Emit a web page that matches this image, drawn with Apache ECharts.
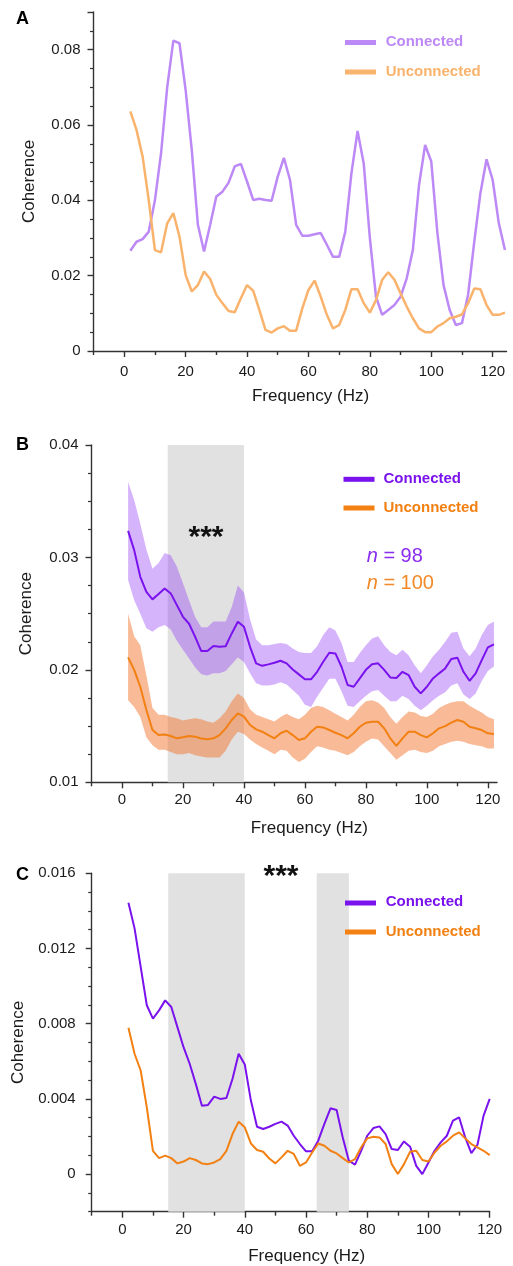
<!DOCTYPE html>
<html>
<head>
<meta charset="utf-8">
<script src="https://cdn.jsdelivr.net/npm/echarts@6/dist/echarts.min.js"></script>
<style>html,body{margin:0;padding:0;background:#fff}#chart{width:513px;height:1266px}</style>
</head>
<body>
<div id="chart"></div>
<script>
// ---------- Panel A ----------
const freqA = [2,4,6,8,10,12,14,16,18,20,22,24,26,28,30,32,34,36,38,40,42,44,46,48,50,52,54,56,58,60,62,64,66,68,70,72,74,76,78,80,82,84,86,88,90,92,94,96,98,100,102,104,106,108,110,112,114,116,118,120,122,124];
const connectedA = [0.0266,0.0290,0.0297,0.0317,0.0400,0.0525,0.0700,0.0824,0.0817,0.0693,0.0534,0.0335,0.0264,0.0335,0.0410,0.0423,0.0447,0.0490,0.0497,0.0450,0.0401,0.0404,0.0401,0.0399,0.0463,0.0513,0.0454,0.0335,0.0306,0.0306,0.0310,0.0313,0.0282,0.0250,0.0250,0.0317,0.0472,0.0584,0.0498,0.0300,0.0144,0.0096,0.0109,0.0122,0.0144,0.0193,0.0268,0.0440,0.0547,0.0503,0.0313,0.0175,0.0109,0.0069,0.0074,0.0150,0.0290,0.0419,0.0509,0.0454,0.0339,0.0268];
const unconnectedA = [0.0636,0.0587,0.0516,0.0400,0.0268,0.0262,0.0339,0.0366,0.0304,0.0202,0.0158,0.0175,0.0211,0.0191,0.0149,0.0127,0.0106,0.0103,0.0140,0.0175,0.0160,0.0109,0.0056,0.0049,0.0060,0.0066,0.0054,0.0054,0.0113,0.0162,0.0187,0.0144,0.0096,0.0060,0.0069,0.0109,0.0164,0.0164,0.0127,0.0102,0.0135,0.0189,0.0209,0.0189,0.0153,0.0118,0.0087,0.0060,0.0050,0.0050,0.0065,0.0074,0.0087,0.0091,0.0097,0.0127,0.0166,0.0164,0.0122,0.0096,0.0096,0.0102];

// ---------- Panel B ----------
const freqB = [2,4,6,8,10,12,14,16,18,20,22,24,26,28,30,32,34,36,38,40,42,44,46,48,50,52,54,56,58,60,62,64,66,68,70,72,74,76,78,80,82,84,86,88,90,92,94,96,98,100,102,104,106,108,110,112,114,116,118,120,122];
const connectedB = [0.03236,0.03065,0.02828,0.02694,0.02627,0.02674,0.02724,0.0268,0.02576,0.02472,
  0.0241,0.02294,0.02167,0.02167,0.02212,0.02205,0.0221,0.02324,0.02428,0.02383,
  0.02205,0.02058,0.02036,0.02049,0.02063,0.02081,0.02058,0.02004,0.0196,0.01916,
  0.01916,0.01983,0.02072,0.02152,0.02146,0.02028,0.01865,0.0185,0.01924,0.02,
  0.02049,0.02058,0.02,0.01933,0.01928,0.01983,0.01954,0.0185,0.01791,0.0185,
  0.01924,0.01969,0.02013,0.02096,0.02108,0.01983,0.01903,0.01969,0.02087,0.022,
  0.02227];
const connectedBUpper = [0.0367,0.0351,0.0330,0.0307,0.0290,0.0295,0.0304,0.0302,0.0292,0.0277,
  0.0262,0.0247,0.0238,0.0238,0.0243,0.0243,0.0243,0.0256,0.0275,0.0269,
  0.0245,0.0227,0.0222,0.0222,0.0223,0.0224,0.0223,0.0219,0.0216,0.0215,
  0.0215,0.0221,0.0231,0.0238,0.0235,0.0224,0.0207,0.0207,0.0215,0.0222,
  0.0228,0.0230,0.0222,0.0216,0.0213,0.0218,0.0213,0.0204,0.0197,0.0204,
  0.0212,0.0218,0.0225,0.0233,0.0234,0.0219,0.0212,0.0219,0.0231,0.0240,
  0.0243];
const connectedBLower = [0.0280,0.0262,0.0250,0.0237,0.0234,0.0238,0.0240,0.0236,0.0226,0.0218,
  0.0210,0.0202,0.0196,0.0195,0.0197,0.0197,0.0199,0.0205,0.0211,0.0207,
  0.0197,0.0188,0.0186,0.0186,0.0187,0.0189,0.0187,0.0182,0.0177,0.0169,
  0.0167,0.0176,0.0184,0.0192,0.0192,0.0181,0.0168,0.0167,0.0172,0.0177,
  0.0181,0.0182,0.0177,0.0172,0.0172,0.0177,0.0174,0.0168,0.0164,0.0168,
  0.0173,0.0177,0.0180,0.0186,0.0188,0.0178,0.0174,0.0179,0.0190,0.0199,
  0.0203];
const unconnectedB = [0.02111,0.0200,0.0185,0.01643,0.01465,0.0142,0.01425,0.01412,0.01391,0.0140,
  0.01412,0.01406,0.0139,0.01383,0.01391,0.0142,0.0148,0.01554,0.01613,0.01584,
  0.0151,0.01471,0.0145,0.0142,0.01391,0.01436,0.01459,0.0142,0.01376,0.01391,
  0.0145,0.01494,0.01488,0.01465,0.01441,0.0142,0.01391,0.01436,0.01494,0.0153,
  0.01539,0.01539,0.0148,0.01391,0.01323,0.01391,0.0145,0.0145,0.0142,0.0140,
  0.01436,0.0148,0.0150,0.0153,0.01554,0.01539,0.01494,0.0148,0.01465,0.01436,
  0.0143];
const unconnectedBUpper = [0.0250,0.0230,0.0222,0.0195,0.0166,0.0160,0.0160,0.0158,0.0157,0.0155,
  0.0156,0.0157,0.0156,0.0154,0.0153,0.0157,0.0163,0.0172,0.0179,0.0175,
  0.0165,0.0160,0.0158,0.0156,0.0154,0.0158,0.0161,0.0158,0.0156,0.0160,
  0.0166,0.0168,0.0167,0.0164,0.0161,0.0158,0.0155,0.0160,0.0167,0.0172,
  0.0173,0.0171,0.0166,0.0158,0.0152,0.0158,0.0163,0.0162,0.0159,0.0158,
  0.0161,0.0166,0.0169,0.0171,0.0172,0.0172,0.0168,0.0165,0.0162,0.0158,
  0.0156];
const unconnectedBLower = [0.0173,0.0167,0.0158,0.0140,0.0133,0.0129,0.0129,0.0127,0.0125,0.0125,
  0.0126,0.0124,0.0123,0.0122,0.0122,0.0122,0.0128,0.0138,0.0145,0.0143,
  0.0138,0.0134,0.0131,0.0128,0.0125,0.0129,0.0128,0.0122,0.0118,0.0121,
  0.0127,0.0132,0.0131,0.0129,0.0128,0.0126,0.0124,0.0127,0.0132,0.0136,
  0.0139,0.0138,0.0132,0.0126,0.0120,0.0124,0.0128,0.0129,0.0127,0.0126,
  0.0128,0.0132,0.0134,0.0136,0.0137,0.0136,0.0134,0.0133,0.0132,0.0130,
  0.0130];

// ---------- Panel C ----------
const freqC = [2,4,6,8,10,12,14,16,18,20,22,24,26,28,30,32,34,36,38,40,42,44,46,48,50,52,54,56,58,60,62,64,66,68,70,72,74,76,78,80,82,84,86,88,90,92,94,96,98,100,102,104,106,108,110,112,114,116,118,120];
const connectedC = [0.01443,0.01307,0.01102,0.00898,0.00827,0.00871,0.00924,0.00889,0.00782,0.00675,
  0.00587,0.0048,0.00364,0.00368,0.00412,0.004,0.00405,0.00507,0.0064,0.00583,
  0.00391,0.00252,0.0024,0.00252,0.00267,0.00279,0.00258,0.00204,0.0016,0.00121,
  0.00121,0.00178,0.00267,0.0035,0.00341,0.00195,0.00071,0.0005,0.00124,0.00204,
  0.00245,0.00254,0.00213,0.00133,0.00128,0.00174,0.00146,0.00044,0.0,0.00062,
  0.00124,0.00169,0.00204,0.00284,0.00302,0.00195,0.00112,0.00156,0.00311,0.004];
const unconnectedC = [0.00779,0.0064,0.00551,0.00355,0.00124,0.00085,0.00098,0.00085,0.00057,0.00067,
  0.00085,0.00075,0.00057,0.00053,0.00062,0.0008,0.00124,0.00213,0.00279,0.00249,
  0.00163,0.00128,0.00119,0.00083,0.00057,0.00089,0.00124,0.00107,0.00044,0.00062,
  0.00115,0.00163,0.00151,0.00124,0.0011,0.00085,0.00062,0.0008,0.00142,0.0019,
  0.00199,0.00195,0.0016,0.00053,0.0,0.00053,0.00119,0.00124,0.00075,0.00067,
  0.00115,0.00151,0.00174,0.00204,0.00222,0.0019,0.0016,0.00142,0.00124,0.00101];

// significance bands (Hz)
const bandB = [[15, 40]];
const bandC = [[15, 40], [63.5, 74]];

// ticks
const xMajorTicks = [0, 20, 40, 60, 80, 100, 120];
const xMinorTicks = [-10, 10, 30, 50, 70, 90, 110];
const yMajorLabelsA = [0, 0.02, 0.04, 0.06, 0.08];
const yMajorTicksA = [0, 0.02, 0.04, 0.06, 0.08, 0.09];
const yMinorTicksA = [0.005, 0.01, 0.015, 0.025, 0.03, 0.035, 0.045, 0.05, 0.055, 0.065, 0.07, 0.075, 0.085];
const yMajorTicksB = [0.01, 0.02, 0.03, 0.04];
const yMinorTicksB = [0.0125, 0.015, 0.0175, 0.0225, 0.025, 0.0275, 0.0325, 0.035, 0.0375];
const yMajorTicksC = [0, 0.004, 0.008, 0.012, 0.016];
const yMinorTicksC = [-0.002, -0.001, 0.001, 0.002, 0.003, 0.005, 0.006, 0.007, 0.009, 0.01, 0.011, 0.013, 0.014, 0.015];

const FONT = 'Liberation Sans, Arial, Helvetica, sans-serif';
const AXIS = '#333333';
const TXT = '#1a1a1a';
const C_A = '#bd89f6', U_A = '#fab36c';
const C_P = '#7a12ee', U_O = '#f28012';
const C_BAND = 'rgba(150,62,245,0.39)', U_BAND = 'rgba(242,118,48,0.5)';
const GRAY = '#e1e1e1';

function pairs(f, v) { return f.map((x, i) => [x, v[i]]); }

function xMain(g, max, margin, gap, pad) {
  return { type: 'value', gridIndex: g, min: -10, max: max, position: 'bottom',
    axisLine: { show: true, onZero: false, lineStyle: { color: AXIS, width: 1.4 } },
    axisTick: { show: true, length: 6, customValues: xMajorTicks, lineStyle: { color: AXIS, width: 1.4 } },
    axisLabel: { customValues: xMajorTicks, margin: margin, fontSize: 15, color: TXT, fontFamily: FONT },
    splitLine: { show: false },
    name: 'Frequency (Hz)', nameLocation: 'middle', nameGap: gap,
    nameTextStyle: { fontSize: 17, color: TXT, fontFamily: FONT, padding: [0, 0, 0, pad] } };
}
function xMinor(g, max) {
  return { type: 'value', gridIndex: g, min: -10, max: max, position: 'bottom',
    axisLine: { show: false, onZero: false },
    axisTick: { show: true, length: 4, customValues: xMinorTicks, lineStyle: { color: AXIS, width: 1.4 } },
    axisLabel: { show: false }, splitLine: { show: false } };
}
function yMain(g, min, max, ticks, labels, margin, gap) {
  return { type: 'value', gridIndex: g, min: min, max: max, position: 'left',
    axisLine: { show: true, onZero: false, lineStyle: { color: AXIS, width: 1.4 } },
    axisTick: { show: true, length: 6, customValues: ticks, lineStyle: { color: AXIS, width: 1.4 } },
    axisLabel: { customValues: labels, margin: margin, fontSize: 15, color: TXT, fontFamily: FONT },
    splitLine: { show: false },
    name: 'Coherence', nameLocation: 'middle', nameGap: gap,
    nameTextStyle: { fontSize: 17, color: TXT, fontFamily: FONT } };
}
function yMinor(g, min, max, ticks) {
  return { type: 'value', gridIndex: g, min: min, max: max, position: 'left',
    axisLine: { show: false, onZero: false },
    axisTick: { show: true, length: 3.5, customValues: ticks, lineStyle: { color: AXIS, width: 1.2 } },
    axisLabel: { show: false }, splitLine: { show: false } };
}
function lineS(name, xi, yi, f, v, color, w, extra) {
  return Object.assign({ type: 'line', name: name, xAxisIndex: xi, yAxisIndex: yi,
    data: pairs(f, v), showSymbol: false, symbol: 'none', smooth: false,
    lineStyle: { color: color, width: w }, itemStyle: { color: color }, z: 3 }, extra || {});
}
function bandS(name, xi, yi, f, up, lo, color) {
  return { type: 'custom', name: name, xAxisIndex: xi, yAxisIndex: yi, silent: true, z: 2,
    data: [[f[0], lo[0]]],
    renderItem: function (params, api) {
      const pts = [];
      for (let i = 0; i < f.length; i++) pts.push(api.coord([f[i], up[i]]));
      for (let i = f.length - 1; i >= 0; i--) pts.push(api.coord([f[i], lo[i]]));
      return { type: 'polygon', shape: { points: pts }, style: { fill: color } };
    } };
}
function shade(bands, yMin, yMax) {
  return { silent: true, label: { show: false }, itemStyle: { color: GRAY }, z: 1,
    data: bands.map(b => [{ xAxis: b[0], yAxis: yMin }, { xAxis: b[1], yAxis: yMax }]) };
}
function txt(x, y, text, size, color, bold, align) {
  return { type: 'text', x: x, y: y, silent: true, z: 100,
    style: { text: text, fill: color, font: (bold ? 'bold ' : '') + size + 'px ' + FONT,
      textAlign: align || 'left', textVerticalAlign: 'middle' } };
}
function swatch(x, y, color) {
  return { type: 'rect', silent: true, z: 100, shape: { x: x, y: y - 2.5, width: 31, height: 5 }, style: { fill: color } };
}

const chart = echarts.init(document.getElementById('chart'), null, { renderer: 'canvas' });
chart.setOption({
  animation: false,
  backgroundColor: '#ffffff',
  grid: [
    { left: 93.5, top: 12, width: 413, height: 339, outerBoundsMode: 'none' },
    { left: 91.5, top: 445, width: 405.5, height: 337.3, outerBoundsMode: 'none' },
    { left: 91.7, top: 873.3, width: 398, height: 338.4, outerBoundsMode: 'none' }
  ],
  xAxis: [
    xMain(0, 124.5, 13, 37, 21), xMinor(0, 124.5),
    xMain(1, 123, 10.5, 37.5, 30), xMinor(1, 123),
    xMain(2, 120, 11, 36.5, 32), xMinor(2, 120)
  ],
  yAxis: [
    yMain(0, 0, 0.09, yMajorTicksA, yMajorLabelsA, 13, 56), yMinor(0, 0, 0.09, yMinorTicksA),
    yMain(1, 0.01, 0.04, yMajorTicksB, yMajorTicksB, 13, 57), yMinor(1, 0.01, 0.04, yMinorTicksB),
    yMain(2, -0.002, 0.016, yMajorTicksC, yMajorTicksC, 16, 65), yMinor(2, -0.002, 0.016, yMinorTicksC)
  ],
  series: [
    lineS('Connected', 0, 0, freqA, connectedA, C_A, 2.5),
    lineS('Unconnected', 0, 0, freqA, unconnectedA, U_A, 2.5),

    bandS('Connected SEM', 2, 2, freqB, connectedBUpper, connectedBLower, C_BAND),
    bandS('Unconnected SEM', 2, 2, freqB, unconnectedBUpper, unconnectedBLower, U_BAND),
    lineS('Connected', 2, 2, freqB, connectedB, C_P, 2, { markArea: shade(bandB, 0.01, 0.04) }),
    lineS('Unconnected', 2, 2, freqB, unconnectedB, U_O, 2),

    lineS('Connected', 4, 4, freqC, connectedC, C_P, 2, { markArea: shade(bandC, -0.002, 0.016) }),
    lineS('Unconnected', 4, 4, freqC, unconnectedC, U_O, 2)
  ],
  graphic: [
    txt(16, 19.5, 'A', 18, '#000', true),
    txt(16, 445, 'B', 18, '#000', true),
    txt(16, 875, 'C', 18, '#000', true),

    swatch(345, 42.5, C_A), txt(385.7, 41.7, 'Connected', 15, C_A, true),
    swatch(345, 72, U_A), txt(385.7, 71.7, 'Unconnected', 15, U_A, true),

    swatch(343.5, 479.3, C_P), txt(383.5, 479.3, 'Connected', 15, C_P, true),
    swatch(343.5, 508, U_O), txt(383.5, 508, 'Unconnected', 15, U_O, true),
    { type: 'text', x: 366.7, y: 556, silent: true, z: 100,
      style: { text: '{i|n} = 98', fill: '#8a2cf0', font: '20px ' + FONT, textVerticalAlign: 'middle',
        rich: { i: { fontStyle: 'italic', fontSize: 20, fontFamily: FONT, fill: '#8a2cf0' } } } },
    { type: 'text', x: 366.7, y: 583, silent: true, z: 100,
      style: { text: '{i|n} = 100', fill: '#f28a2a', font: '20px ' + FONT, textVerticalAlign: 'middle',
        rich: { i: { fontStyle: 'italic', fontSize: 20, fontFamily: FONT, fill: '#f28a2a' } } } },
    txt(206, 538, '***', 30, '#111', true, 'center'),

    swatch(345, 903, C_P), txt(385.7, 901.7, 'Connected', 15, C_P, true),
    swatch(345, 932, U_O), txt(385.7, 931.7, 'Unconnected', 15, U_O, true),
    txt(281, 876.5, '***', 30, '#111', true, 'center')
  ]
});
</script>
</body>
</html>
